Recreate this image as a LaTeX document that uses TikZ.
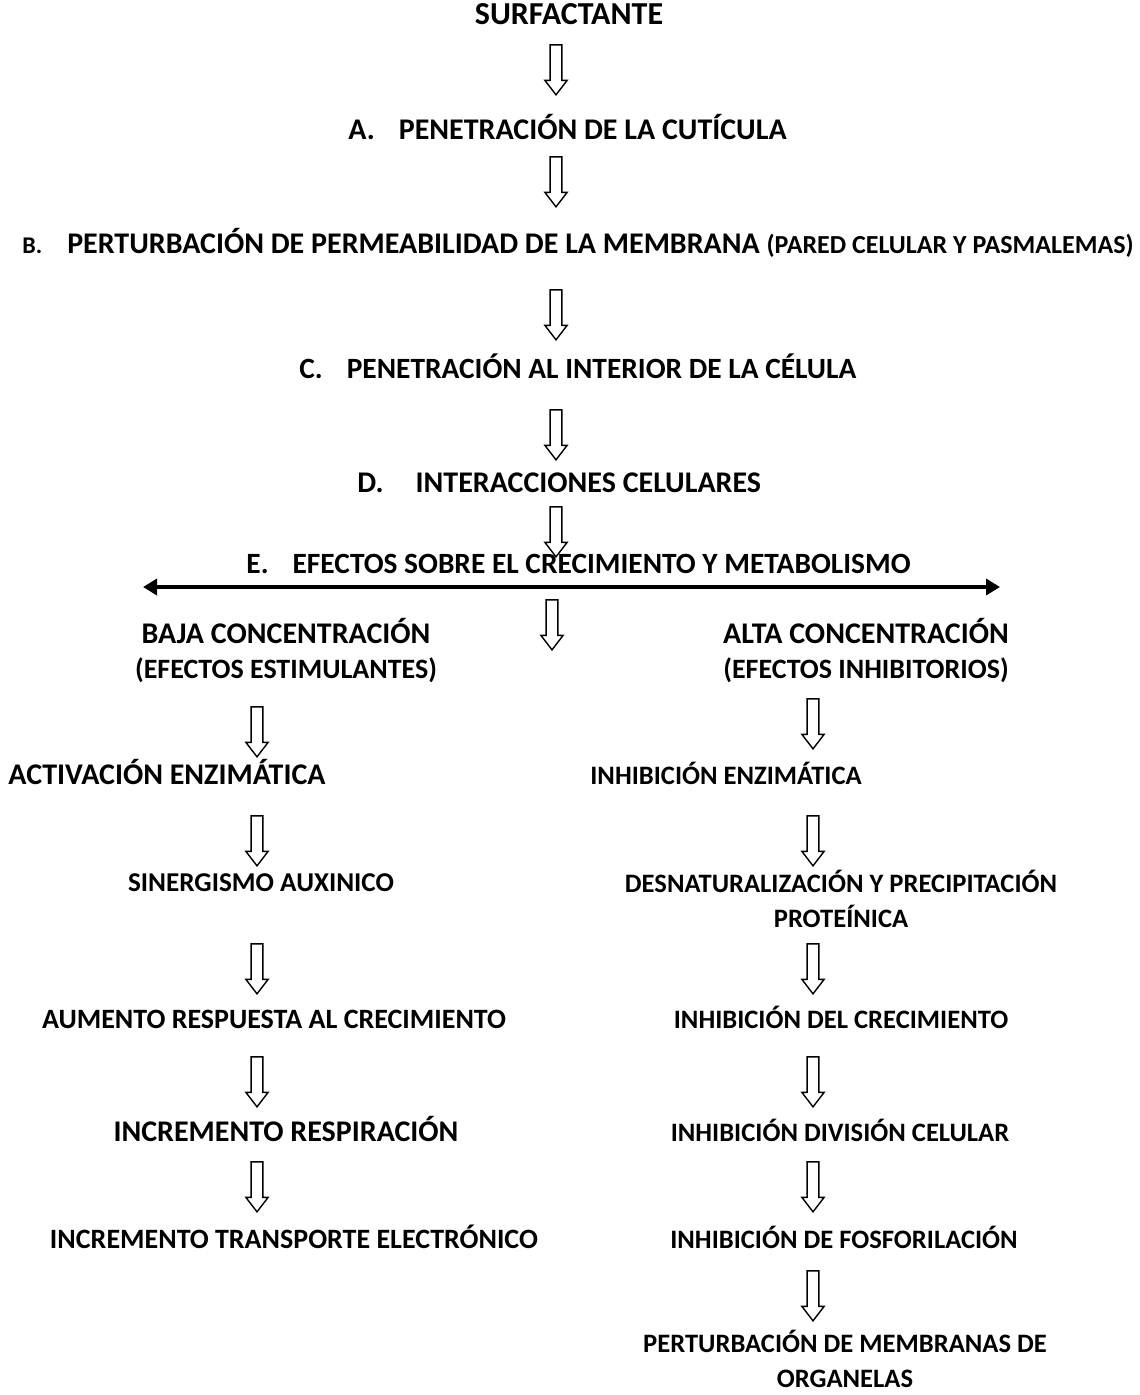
\documentclass[tikz,border=0pt]{standalone}
\usepackage{fontspec}
\setmainfont{Carlito}
\usetikzlibrary{shapes.arrows,arrows.meta}

\begin{document}
\begin{tikzpicture}[x=0.5pt,y=-0.5pt,
    txt/.style={font=\fontsize{15}{17.5}\selectfont\bfseries, inner sep=0pt, anchor=base, align=center},
    txtizq/.style={txt, font=\fontsize{14}{17.5}\selectfont\bfseries},
    txtder/.style={txt, font=\fontsize{13.3}{17.5}\selectfont\bfseries},
    bajada/.style={draw, line width=0.7pt, single arrow, shape border rotate=270, minimum height=25pt,
      inner sep=2.6pt, single arrow head extend=2.6pt, single arrow tip angle=75}]
  \useasboundingbox (0,0) rectangle (1139,1395);

  % tronco central
  \node[txt, font=\fontsize{16}{18}\selectfont\bfseries] (surf) at (569,25) {SURFACTANTE};
  \node[txt, anchor=base west] (pa) at (348,140) {A.\hspace{12pt}PENETRACIÓN DE LA CUTÍCULA};
  \node[txt, anchor=base west] (pb) at (22,254) {{\fontsize{12}{14}\selectfont B.}\hspace{12.5pt}PERTURBACIÓN DE PERMEABILIDAD DE LA MEMBRANA {\fontsize{13}{15}\selectfont (PARED CELULAR Y PASMALEMAS)}};
  \node[txt, anchor=base west, font=\fontsize{14.7}{17.5}\selectfont\bfseries] (pc) at (299,379) {C.\hspace{12pt}PENETRACIÓN AL INTERIOR DE LA CÉLULA};
  \node[txt, anchor=base west] (pd) at (357,492) {D.\hspace{16pt}INTERACCIONES CELULARES};
  \node[txt, anchor=base west, font=\fontsize{14.7}{17.5}\selectfont\bfseries] (pe) at (246,573) {E.\hspace{12pt}EFECTOS SOBRE EL CRECIMIENTO Y METABOLISMO};

  \node[bajada] (f1) at (556,66) {};
  \node[bajada] (f2) at (556,178) {};
  \node[bajada] (f3) at (556,311) {};
  \node[bajada] (f4) at (556,431) {};
  \node[bajada] (f5) at (556,528) {};
  \node[bajada] (f6) at (552,621) {};

  \coordinate (extizq) at (143,587);
  \coordinate (extder) at (1000,587);
  \draw[line width=2pt, {Triangle[length=7pt,width=8pt]}-{Triangle[length=7pt,width=8pt]}] (extizq) -- (extder);

  % baja concentracion
  \node[txt] (baja) at (286,678) {BAJA CONCENTRACIÓN\\{\fontsize{14}{17.5}\selectfont (EFECTOS ESTIMULANTES)}};
  \node[txt] (act) at (167,784) {ACTIVACIÓN ENZIMÁTICA};
  \node[txtizq, font=\fontsize{13.6}{17.5}\selectfont\bfseries] (sin) at (261,891) {SINERGISMO AUXINICO};
  \node[txtizq] (aum) at (274,1028) {AUMENTO RESPUESTA AL CRECIMIENTO};
  \node[txt] (resp) at (286,1141) {INCREMENTO RESPIRACIÓN};
  \node[txtizq] (trans) at (294,1248) {INCREMENTO TRANSPORTE ELECTRÓNICO};

  \node[bajada] (b1) at (257,728) {};
  \node[bajada] (b2) at (257,837) {};
  \node[bajada] (b3) at (257,965) {};
  \node[bajada] (b4) at (257,1078) {};
  \node[bajada] (b5) at (257,1183) {};

  % alta concentracion
  \node[txt] (alta) at (866,678) {ALTA CONCENTRACIÓN\\{\fontsize{14}{17.5}\selectfont (EFECTOS INHIBITORIOS)}};
  \node[txtder] (inh) at (726,784) {INHIBICIÓN ENZIMÁTICA};
  \node[txtder] (desn) at (841,927) {DESNATURALIZACIÓN Y PRECIPITACIÓN\\PROTEÍNICA};
  \node[txtder] (inhc) at (841,1028) {INHIBICIÓN DEL CRECIMIENTO};
  \node[txtder] (div) at (840,1141) {INHIBICIÓN DIVISIÓN CELULAR};
  \node[txtder] (fosf) at (844,1248) {INHIBICIÓN DE FOSFORILACIÓN};
  \node[txtder] (pert) at (845,1387) {PERTURBACIÓN DE MEMBRANAS DE\\ORGANELAS};

  \node[bajada] (a1) at (813,720) {};
  \node[bajada] (a2) at (813,837) {};
  \node[bajada] (a3) at (813,965) {};
  \node[bajada] (a4) at (813,1078) {};
  \node[bajada] (a5) at (813,1183) {};
  \node[bajada] (a6) at (813,1292) {};
\end{tikzpicture}
\end{document}
